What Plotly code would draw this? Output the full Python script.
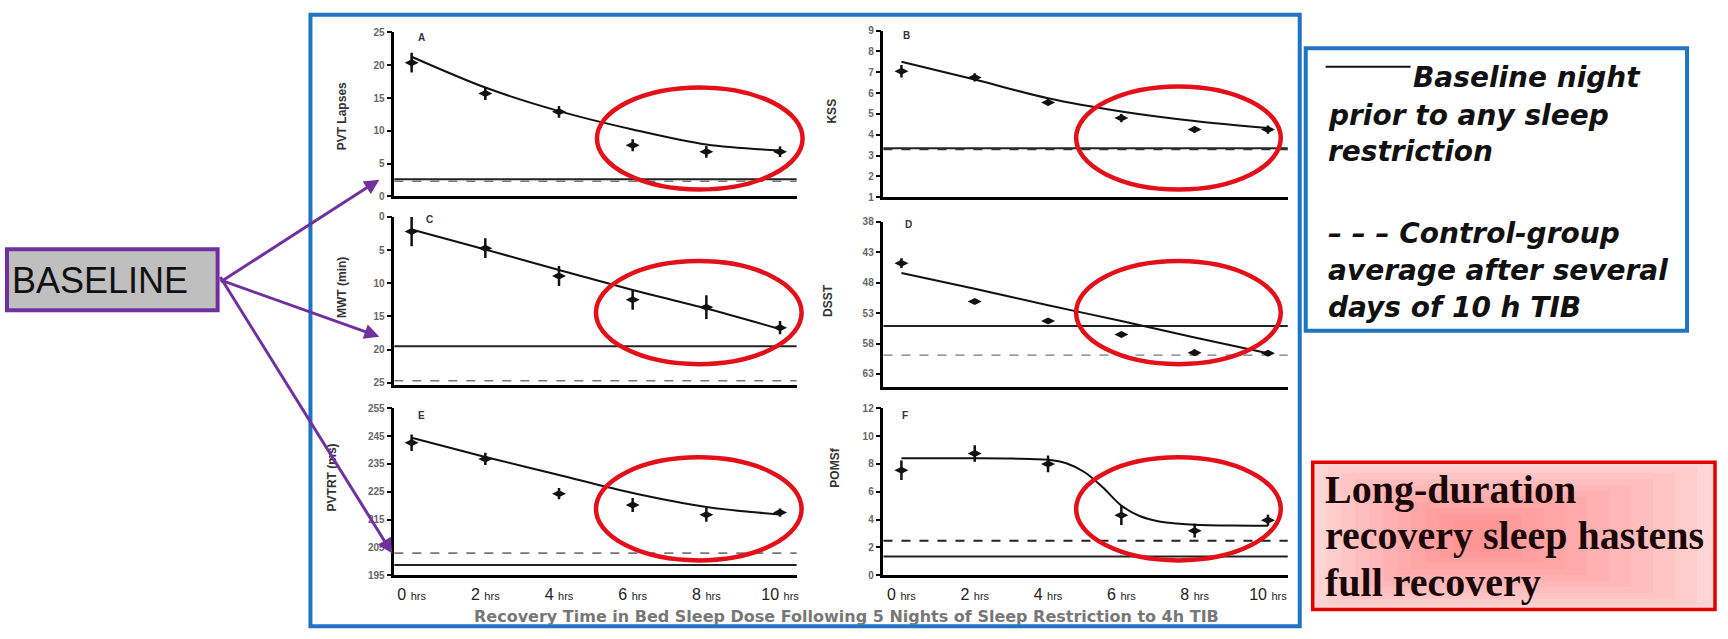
import plotly.graph_objects as go

W, H = 1728, 639

# ---------------- data ----------------
hours = [0, 2, 4, 6, 8, 10]
hour_labels = ["0", "2", "4", "6", "8", "10"]

# A: PVT lapses
a_mean = [20.4, 15.7, 12.9, 7.8, 6.8, 6.8]
a_err = [1.5, 1.0, 0.9, 0.9, 0.9, 0.8]
a_fit = [21.3, 16.6, 13.0, 10.2, 7.9, 7.0]
a_base, a_ctrl = 2.6, 2.3

# B: KSS
b_mean = [7.05, 6.75, 5.55, 4.8, 4.25, 4.25]
b_err = [0.3, 0.2, 0.15, 0.2, 0.15, 0.2]
b_fit = [7.5, 6.65, 5.75, 5.12, 4.66, 4.32]
b_base, b_ctrl = 3.35, 3.3

# C: MWT (min)
c_mean = [2.2, 4.7, 8.9, 12.5, 13.6, 16.7]
c_err = [2.2, 1.5, 1.5, 1.5, 1.8, 1.0]
c_fit = [1.9, 4.9, 8.0, 11.0, 13.8, 16.9]
c_base, c_ctrl = 19.5, 24.7

# D: DSST
d_mean = [44.8, 51.1, 54.3, 56.5, 59.5, 59.6]
d_err = [0.8, 0.4, 0.4, 0.4, 0.5, 0.4]
d_fit = [46.4, 49.0, 51.7, 54.3, 57.0, 59.6]
d_base, d_ctrl = 55.1, 59.9

# E: PVT RT (ms)
e_mean = [242.6, 236.8, 224.3, 220.2, 216.7, 217.5]
e_err = [3.0, 2.2, 2.0, 2.5, 2.5, 1.5]
e_fit = [244.4, 237.5, 231.0, 224.5, 219.5, 216.8]
e_base, e_ctrl = 198.6, 202.9

# F: POMS
f_mean = [7.55, 8.75, 8.0, 4.3, 3.2, 3.95]
f_err = [0.7, 0.6, 0.6, 0.7, 0.5, 0.4]
f_fit_hours = [0, 1, 2, 3, 4, 4.5, 5, 5.5, 6, 6.5, 7, 7.5, 8, 9, 10]
f_fit = [8.4, 8.4, 8.4, 8.38, 8.3, 8.05, 7.4, 6.3, 5.0, 4.25, 3.88, 3.72, 3.62, 3.56, 3.55]
f_base, f_ctrl = 1.34, 2.47

panel_letters = ["A", "B", "C", "D", "E", "F"]
y_titles = ["PVT Lapses", "KSS", "MWT (min)", "DSST", "PVTRT (ms)", "POMSf"]
x_title = "Recovery Time in Bed Sleep Dose Following 5 Nights of Sleep Restriction to 4h TIB"
legend_solid = ["Baseline night", "prior to any sleep", "restriction"]
legend_dash = ["– – – Control-group", "average after several", "days of 10 h TIB"]
callout = ["Long-duration", "recovery sleep hastens", "full recovery"]
baseline_label = "BASELINE"

# ---------------- helpers ----------------
def px(x):
    return x / W

def py(y):
    return 1 - y / H

FONT = "Arial, Liberation Sans, sans-serif"
WIDE = "DejaVu Sans, Arial, sans-serif"

panels = [
    dict(mean=a_mean, err=a_err, fx=hours, fit=a_fit, base=a_base, ctrl=a_ctrl,
         xd=(395, 798), yd=(27, 194), rng=[0, 25], tick0=0, dtick=5, xr=[-0.47, 10.45],
         ell=(598, 83, 804, 187), ctrl_color="#777", ctrl_w=1.6, title_xy=(342, 112), letter=(422, 32)),
    dict(mean=b_mean, err=b_err, fx=hours, fit=b_fit, base=b_base, ctrl=b_ctrl,
         xd=(885, 1290), yd=(25, 195), rng=[1, 9], tick0=1, dtick=1, xr=[-0.49, 10.54],
         ell=(1078, 82, 1283, 187), ctrl_color="#333", ctrl_w=1.6, title_xy=(833, 107), letter=(908, 30)),
    dict(mean=c_mean, err=c_err, fx=hours, fit=c_fit, base=c_base, ctrl=c_ctrl,
         xd=(395, 798), yd=(215, 386), rng=[25.3, 0], tick0=0, dtick=5, xr=[-0.47, 10.45],
         ell=(597, 260, 803, 365), ctrl_color="#777", ctrl_w=1.6, title_xy=(342, 287), letter=(430, 218)),
    dict(mean=d_mean, err=d_err, fx=hours, fit=d_fit, base=d_base, ctrl=d_ctrl,
         xd=(885, 1290), yd=(220, 388), rng=[65.1, 38], tick0=38, dtick=5, xr=[-0.49, 10.54],
         ell=(1078, 260, 1283, 365), ctrl_color="#777", ctrl_w=1.4, title_xy=(830, 300), letter=(910, 223)),
    dict(mean=e_mean, err=e_err, fx=hours, fit=e_fit, base=e_base, ctrl=e_ctrl,
         xd=(395, 798), yd=(410, 580), rng=[195, 255], tick0=195, dtick=10, xr=[-0.47, 10.45],
         ell=(597, 460, 803, 565), ctrl_color="#777", ctrl_w=1.6, title_xy=(333, 480), letter=(422, 417)),
    dict(mean=f_mean, err=f_err, fx=f_fit_hours, fit=f_fit, base=f_base, ctrl=f_ctrl,
         xd=(885, 1290), yd=(410, 580), rng=[0, 12], tick0=0, dtick=2, xr=[-0.49, 10.54],
         ell=(1078, 460, 1283, 565), ctrl_color="#222", ctrl_w=2, title_xy=(837, 471), letter=(907, 417)),
]

fig = go.Figure()
layout = dict(
    width=W, height=H, margin=dict(l=0, r=0, t=0, b=0),
    paper_bgcolor="white", plot_bgcolor="white", showlegend=False,
    font=dict(family=FONT),
)
shapes = []
annotations = []

tick_text = [f"{h} <span style='font-size:11px'>hrs</span>" for h in hour_labels]

for i, p in enumerate(panels):
    n = i + 1
    xa = "x" if n == 1 else f"x{n}"
    ya = "y" if n == 1 else f"y{n}"
    xkey = "xaxis" if n == 1 else f"xaxis{n}"
    ykey = "yaxis" if n == 1 else f"yaxis{n}"
    bottom = i >= 4
    layout[xkey] = dict(
        domain=[px(p["xd"][0]), px(p["xd"][1])], range=p["xr"], anchor=ya,
        showgrid=False, zeroline=False, showline=True, linecolor="black", linewidth=2.5,
        ticks="", tickvals=hours, ticktext=tick_text, showticklabels=bottom,
        tickfont=dict(size=16, color="#222", family=FONT), ticklabelstandoff=3,
    )
    layout[ykey] = dict(
        domain=[py(p["yd"][1]), py(p["yd"][0])], range=p["rng"], anchor=xa,
        showgrid=False, zeroline=False, showline=True, linecolor="black", linewidth=2.5,
        ticks="outside", ticklen=5, tickwidth=1.5, tickcolor="black",
        tick0=p["tick0"], dtick=p["dtick"],
        tickfont=dict(size=10, color="#666", family=FONT, weight="bold"),
    )
    # baselines
    shapes.append(dict(type="line", xref=f"{xa} domain", yref=ya, x0=0, x1=1,
                       y0=p["base"], y1=p["base"], line=dict(color="#222", width=2), layer="below"))
    shapes.append(dict(type="line", xref=f"{xa} domain", yref=ya, x0=0, x1=1,
                       y0=p["ctrl"], y1=p["ctrl"],
                       line=dict(color=p["ctrl_color"], width=p["ctrl_w"], dash="dash"), layer="below"))
    # fit curve
    fig.add_trace(go.Scatter(x=p["fx"], y=p["fit"], mode="lines", xaxis=xa, yaxis=ya,
                             line=dict(color="#111", width=2, shape="spline", smoothing=0.9),
                             hoverinfo="skip"))
    # observed means
    fig.add_trace(go.Scatter(x=hours, y=p["mean"], mode="markers", xaxis=xa, yaxis=ya,
                             marker=dict(symbol="diamond-wide", size=10, color="#111"),
                             error_y=dict(type="data", array=p["err"], visible=True,
                                          color="#111", thickness=2.5, width=0)))
    # red ellipse
    x0, y0, x1, y1 = p["ell"]
    shapes.append(dict(type="circle", xref="paper", yref="paper",
                       x0=px(x0), x1=px(x1), y0=py(y1), y1=py(y0),
                       line=dict(color="#e3101a", width=4.5), layer="above"))
    # y title and panel letter
    tx, ty = p["title_xy"]
    annotations.append(dict(x=px(tx), y=py(ty), xref="paper", yref="paper", text=y_titles[i],
                            textangle=-90, showarrow=False, xanchor="center", yanchor="middle",
                            font=dict(size=12, color="#333", family=FONT, weight="bold")))
    lx, ly = p["letter"]
    annotations.append(dict(x=px(lx), y=py(ly), xref="paper", yref="paper", text=panel_letters[i],
                            showarrow=False, xanchor="center", yanchor="middle",
                            font=dict(size=10, color="#333", family=FONT, weight="bold")))

# x-axis title
annotations.append(dict(x=px(848), y=py(622), xref="paper", yref="paper", text=x_title,
                        showarrow=False, xanchor="center", yanchor="middle",
                        font=dict(size=16, color="#777", family=WIDE, weight="bold")))

# big blue frame
shapes.append(dict(type="rect", xref="paper", yref="paper", x0=px(311), x1=px(1302),
                   y0=py(632), y1=py(9), line=dict(color="#1f74c4", width=4), layer="below"))

# legend box
shapes.append(dict(type="rect", xref="paper", yref="paper", x0=px(1308), x1=px(1690),
                   y0=py(331), y1=py(43), line=dict(color="#1f74c4", width=4), layer="below"))
shapes.append(dict(type="line", xref="paper", yref="paper", x0=px(1328), x1=px(1413),
                   y0=py(62), y1=py(62), line=dict(color="#111", width=2)))
leg_font = dict(size=28, color="#111", family=WIDE, weight="bold", style="italic")
annotations.append(dict(x=px(1413), y=py(73), xref="paper", yref="paper", text=legend_solid[0],
                        showarrow=False, xanchor="left", yanchor="middle", font=leg_font))
for k, yy in enumerate([112, 148]):
    annotations.append(dict(x=px(1328), y=py(yy), xref="paper", yref="paper", text=legend_solid[k + 1],
                            showarrow=False, xanchor="left", yanchor="middle", font=leg_font))
for k, yy in enumerate([232, 270, 307]):
    annotations.append(dict(x=px(1328), y=py(yy), xref="paper", yref="paper", text=legend_dash[k],
                            showarrow=False, xanchor="left", yanchor="middle", font=leg_font))

# red callout box with a soft gradient
shapes.append(dict(type="rect", xref="paper", yref="paper", x0=px(1315), x1=px(1718),
                   y0=py(615), y1=py(465), fillcolor="#ffd4d4", line=dict(width=0), layer="below"))
for k in range(10):
    shapes.append(dict(type="rect", xref="paper", yref="paper",
                       x0=px(1330 + 14 * k), x1=px(1700 - 22 * k),
                       y0=py(610 - 6 * k), y1=py(470 + 6 * k),
                       fillcolor="rgba(255,90,90,0.06)", line=dict(width=0), layer="below"))
shapes.append(dict(type="rect", xref="paper", yref="paper", x0=px(1315), x1=px(1718),
                   y0=py(615), y1=py(465), line=dict(color="#e00000", width=3.5)))
for k, yy in enumerate([493, 540, 588]):
    annotations.append(dict(x=px(1325), y=py(yy), xref="paper", yref="paper", text=callout[k],
                            showarrow=False, xanchor="left", yanchor="middle",
                            font=dict(size=40, color="#1a0808",
                                      family="Liberation Serif, Times New Roman, serif", weight="bold")))

# BASELINE box
shapes.append(dict(type="rect", xref="paper", yref="paper", x0=px(7), x1=px(218),
                   y0=py(310), y1=py(248), fillcolor="#bfbfbf",
                   line=dict(color="#7030a0", width=4)))
annotations.append(dict(x=px(10), y=py(280), xref="paper", yref="paper", text=baseline_label,
                        showarrow=False, xanchor="left", yanchor="middle",
                        font=dict(size=36, color="#111", family=FONT)))

# arrows from BASELINE box
for tipx, tipy in [(380, 177), (380, 337), (393, 558)]:
    annotations.append(dict(x=px(tipx), y=py(tipy), xref="paper", yref="paper", text="",
                            showarrow=True, arrowhead=2, arrowsize=1, arrowwidth=3,
                            arrowcolor="#7030a0", ax=220 - tipx, ay=280 - tipy,
                            axref="pixel", ayref="pixel"))

layout["shapes"] = shapes
layout["annotations"] = annotations
fig.update_layout(**layout)
fig.write_html("out.html")
